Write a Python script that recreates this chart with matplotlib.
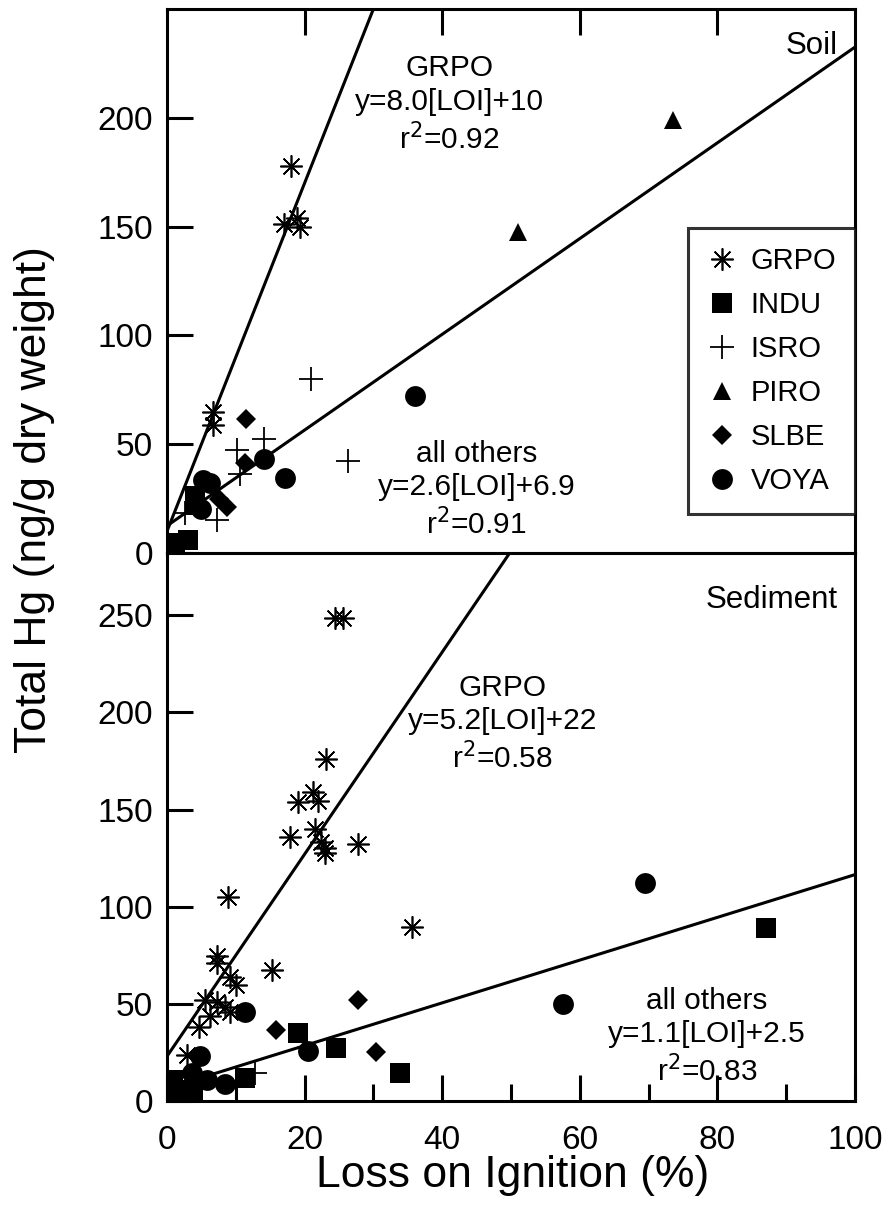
import matplotlib
matplotlib.use("Agg")
import matplotlib.pyplot as plt
from matplotlib.ticker import MultipleLocator
import numpy as np

plt.rcParams['font.family'] = ['Liberation Sans', 'DejaVu Sans']

# ---------------- data ----------------
# Soil panel
grpo_soil_x = [18.0, 17.0, 18.9, 19.4, 6.7, 6.7]
grpo_soil_y = [178, 151, 154, 150, 65, 59]
indu_soil_x = [1.2, 3.1, 4.0, 4.0]
indu_soil_y = [4.6, 6.0, 26, 22]
isro_soil_x = [21.0, 26.3, 10.2, 14.1, 10.6, 7.2, 2.6]
isro_soil_y = [80, 42.5, 47.4, 52.3, 36.3, 15.2, 18.4]
piro_soil_x = [51.0, 73.5]
piro_soil_y = [147.7, 199]
slbe_soil_x = [11.5, 11.3, 8.7, 7.5]
slbe_soil_y = [61.5, 41.2, 21.3, 25]
voya_soil_x = [5.3, 6.3, 5.0, 14.1, 17.1, 36.0]
voya_soil_y = [33.6, 32, 20, 43.1, 34.3, 72.2]

# Sediment panel
grpo_sed_x = [8.9, 35.6, 7.3, 7.3, 9.1, 10.1, 15.3, 5.5, 7.2, 8.4, 9.1, 6.2, 4.7, 2.9,
              24.4, 25.6, 23.1, 21.2, 19.1, 22.0, 21.5, 17.9, 22.4, 22.9, 22.9, 27.8]
grpo_sed_y = [105, 89.5, 74.4, 71, 64, 59.8, 67.5, 52, 51.2, 48.6, 46, 43.5, 38.3, 23.8,
              248.8, 248.8, 176, 159, 153.8, 154.6, 140, 135.7, 133.2, 130.2, 127.7, 132.3]
indu_sed_x = [19.1, 24.6, 33.9, 11.3, 0.9, 0.9, 3.8, 87.0]
indu_sed_y = [35.2, 27.2, 14.3, 11.7, 10.8, 4.8, 5.7, 89]
isro_sed_x = [12.8]
isro_sed_y = [14.3]
slbe_sed_x = [27.7, 15.8, 30.4]
slbe_sed_y = [51.8, 36.3, 25.1]
voya_sed_x = [11.3, 20.5, 4.8, 8.4, 5.8, 3.6, 69.5, 57.5]
voya_sed_y = [46, 25.5, 22.9, 8.8, 10.9, 14.3, 112, 50]

# regression lines (slope, intercept, x-range)
soil_grpo_fit = (8.0, 10.0, 0, 40)
soil_other_fit = (2.2, 12.5, 0, 100)
sed_grpo_fit = (5.2, 23.0, 0, 60)
sed_other_fit = (1.1, 6.5, 5, 100)

# ---------------- styles ----------------
star = (8, 2, 0)
styles = {
    'GRPO': dict(marker=star, ms=16, mew=1.2, mfc='none', mec='black'),
    'INDU': dict(marker='s', ms=14, mew=0, mfc='black', mec='black'),
    'ISRO': dict(marker='+', ms=17, mew=1.3, mfc='none', mec='black'),
    'PIRO': dict(marker='^', ms=13, mew=0, mfc='black', mec='black'),
    'SLBE': dict(marker='D', ms=10.5, mew=0, mfc='black', mec='black'),
    'VOYA': dict(marker='o', ms=15, mew=0, mfc='black', mec='black'),
}

W, H = 888, 1226
fig = plt.figure(figsize=(W / 100, H / 100), dpi=100)
L, R = 167 / W, 855 / W
ax1 = fig.add_axes([L, 1 - 553 / H, R - L, (553 - 9) / H])
ax2 = fig.add_axes([L, 1 - 1101 / H, R - L, (1101 - 553) / H])

LW = 2.2

def draw(ax, groups, fits):
    for name, xs, ys in groups:
        ax.plot(xs, ys, ls='none', label=name, zorder=3, **styles[name])
    for slope, icpt, x0, x1 in fits:
        xx = np.array([x0, x1])
        ax.plot(xx, slope * xx + icpt, color='black', lw=LW, zorder=2)
    for s in ax.spines.values():
        s.set_linewidth(LW)
    ax.set_xlim(0, 100)

draw(ax1, [('GRPO', grpo_soil_x, grpo_soil_y), ('INDU', indu_soil_x, indu_soil_y),
           ('ISRO', isro_soil_x, isro_soil_y), ('PIRO', piro_soil_x, piro_soil_y),
           ('SLBE', slbe_soil_x, slbe_soil_y), ('VOYA', voya_soil_x, voya_soil_y)],
     [soil_grpo_fit, soil_other_fit])
draw(ax2, [('GRPO', grpo_sed_x, grpo_sed_y), ('INDU', indu_sed_x, indu_sed_y),
           ('ISRO', isro_sed_x, isro_sed_y), ('SLBE', slbe_sed_x, slbe_sed_y),
           ('VOYA', voya_sed_x, voya_sed_y)],
     [sed_grpo_fit, sed_other_fit])

ax1.set_ylim(0, 250)
ax2.set_ylim(0, 282)

FS_TICK = 24
ax1.set_yticks([0, 50, 100, 150, 200])
ax1.set_xticks([20, 40, 60, 80])
ax1.tick_params(axis='x', which='both', top=True, bottom=False, labeltop=False,
                labelbottom=False, direction='in', length=19, width=LW)
ax1.tick_params(axis='y', direction='in', length=19, width=LW, labelsize=FS_TICK, pad=10)
ax2.set_yticks([0, 50, 100, 150, 200, 250])
ax2.set_xticks([0, 20, 40, 60, 80, 100])
ax2.xaxis.set_minor_locator(MultipleLocator(10))
ax2.tick_params(axis='x', which='major', direction='in', length=19, width=LW,
                labelsize=FS_TICK, pad=17)
ax2.tick_params(axis='x', which='minor', direction='in', length=12, width=LW)
ax2.tick_params(axis='y', direction='in', length=19, width=LW, labelsize=FS_TICK, pad=10)

FS_ANN = 21.5
ax1.text(41, 206, 'GRPO\ny=8.0[LOI]+10\nr$^2$=0.92', ha='center', va='center',
         fontsize=FS_ANN, linespacing=1.25)
ax1.text(45, 29, 'all others\ny=2.6[LOI]+6.9\nr$^2$=0.91', ha='center', va='center',
         fontsize=FS_ANN, linespacing=1.25)
ax1.text(97.5, 233, 'Soil', ha='right', va='center', fontsize=FS_ANN + 1)
ax2.text(48.8, 194, 'GRPO\ny=5.2[LOI]+22\nr$^2$=0.58', ha='center', va='center',
         fontsize=FS_ANN, linespacing=1.25)
ax2.text(78.5, 33, 'all others\ny=1.1[LOI]+2.5\nr$^2$=0.83', ha='center', va='center',
         fontsize=FS_ANN, linespacing=1.25)
ax2.text(97.5, 258, 'Sediment', ha='right', va='center', fontsize=FS_ANN + 1)

h, l = ax1.get_legend_handles_labels()
leg = fig.legend(h, l, loc='upper left', bbox_to_anchor=(688 / W, 1 - 228 / H),
                 borderaxespad=0, fontsize=21, frameon=True, fancybox=False,
                 edgecolor='black', handlelength=1.0, handletextpad=0.5,
                 labelspacing=0.55, borderpad=0.65, numpoints=1)
leg.get_frame().set_linewidth(LW)

fig.text(35 / W, 1 - 500 / H, 'Total Hg (ng/g dry weight)', rotation=90,
         ha='center', va='center', fontsize=32)
fig.text(513 / W, 1 - 1176 / H, 'Loss on Ignition (%)', ha='center', va='center',
         fontsize=32)

fig.savefig('out.png', dpi=100)
